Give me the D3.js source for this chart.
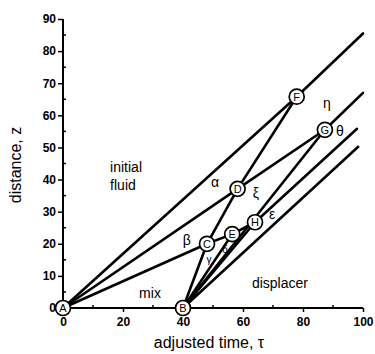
<!DOCTYPE html>
<html>
<head>
<meta charset="utf-8">
<script src="https://cdn.jsdelivr.net/npm/d3@7"></script>
<style>
  body { margin: 0; background: #fff; }
  text { font-family: "Liberation Sans", Arial, sans-serif; fill: #000; }
</style>
</head>
<body>
<div id="chart"></div>
<script>
// points of the wave diagram (tau, z)
var nodes = {
  A: [0, 0], B: [40, 0], C: [48, 20], D: [58.2, 37.1],
  E: [56.4, 23], H: [64, 26.7], F: [77.9, 65.8], G: [87.3, 55.5]
};
// line ends at the right side
var ends = {
  e1: [100, 85.5], e2: [100, 67], e3: [98, 55.8], e4: [98.4, 50.2]
};
var segments = [
  ["A", "F"], ["F", "e1"],
  ["A", "D"], ["D", "G"], ["G", "e2"],
  ["A", "C"], ["C", "D"], ["D", "F"],
  ["B", "C"], ["C", "E"], ["E", "H"], ["H", "e3"],
  ["B", "E"], ["B", "H"], ["B", "G"], ["B", "e4"]
];
var regionLabels = [
  { t: "α", p: [50.7, 39.2], s: 14 },
  { t: "β", p: [41.3, 21.2], s: 14 },
  { t: "γ", p: [48.7, 15], s: 10 },
  { t: "δ", p: [54, 18.3], s: 10 },
  { t: "ξ", p: [64.3, 35.8], s: 14 },
  { t: "ε", p: [69.7, 29.3], s: 14 },
  { t: "η", p: [88, 63.8], s: 14 },
  { t: "θ", p: [92.3, 55.1], s: 14 },
  { t: "mix", p: [29, 4.7], s: 14 },
  { t: "displacer", p: [72.3, 7.8], s: 14 }
];
var xTicks = [0, 20, 40, 60, 80, 100];
var yTicks = [0, 10, 20, 30, 40, 50, 60, 70, 80, 90];

var width = 375, height = 354;

var svg = d3.select("#chart").append("svg")
  .attr("width", width).attr("height", height);

var x = d3.scaleLinear().domain([0, 100]).range([63, 363]);
var y = d3.scaleLinear().domain([0, 90]).range([308, 19]);

function pt(k) { return nodes[k] || ends[k]; }

//axes
var xAxis = svg.append("g").attr("transform", "translate(0,308)")
  .call(d3.axisBottom(x).tickValues(xTicks).tickSize(4).tickPadding(5));
var yAxis = svg.append("g").attr("transform", "translate(63,0)")
  .call(d3.axisLeft(y).tickValues(yTicks).tickSize(5).tickPadding(2));
[xAxis, yAxis].forEach(function (a) {
  a.select(".domain").attr("d", null);
  a.selectAll(".tick line").attr("stroke-width", 1.5);
  a.selectAll("text").attr("font-size", 12).attr("font-weight", "bold")
    .style("font-family", "'Liberation Sans', Arial, sans-serif");
});
svg.append("line").attr("x1", 63).attr("x2", 363).attr("y1", 308).attr("y2", 308)
  .attr("stroke", "#000").attr("stroke-width", 2);
svg.append("line").attr("x1", 63).attr("x2", 63).attr("y1", 19).attr("y2", 308)
  .attr("stroke", "#000").attr("stroke-width", 2);

//minor ticks inside
svg.selectAll(".mx").data(d3.range(10, 100, 20)).enter().append("line")
  .attr("x1", function (d) { return x(d); }).attr("x2", function (d) { return x(d); })
  .attr("y1", 308).attr("y2", 305).attr("stroke", "#000").attr("stroke-width", 1.5);
svg.selectAll(".my").data(d3.range(5, 90, 10)).enter().append("line")
  .attr("y1", function (d) { return y(d); }).attr("y2", function (d) { return y(d); })
  .attr("x1", 63).attr("x2", 66).attr("stroke", "#000").attr("stroke-width", 1.5);

//wave lines
svg.selectAll(".seg").data(segments).enter().append("line")
  .attr("x1", function (d) { return x(pt(d[0])[0]); })
  .attr("y1", function (d) { return y(pt(d[0])[1]); })
  .attr("x2", function (d) { return x(pt(d[1])[0]); })
  .attr("y2", function (d) { return y(pt(d[1])[1]); })
  .attr("stroke", "#000").attr("stroke-width", 2.6).attr("stroke-linecap", "round");

//labelled circles
var keys = Object.keys(nodes);
var g = svg.selectAll(".node").data(keys).enter().append("g")
  .attr("transform", function (k) { return "translate(" + x(nodes[k][0]) + "," + y(nodes[k][1]) + ")"; });
g.append("circle").attr("r", 7.5).attr("fill", "#fff").attr("stroke", "#000").attr("stroke-width", 1.7);
g.append("text").text(function (k) { return k; })
  .attr("text-anchor", "middle").attr("dy", "0.36em").attr("font-size", 11);

//region labels
svg.selectAll(".lab").data(regionLabels).enter().append("text")
  .attr("x", function (d) { return x(d.p[0]); })
  .attr("y", function (d) { return y(d.p[1]); })
  .attr("text-anchor", "middle").attr("dy", "0.35em")
  .attr("font-size", function (d) { return d.s; })
  .text(function (d) { return d.t; });

svg.append("text").attr("x", x(15.7)).attr("y", y(42.4)).attr("font-size", 14).text("initial");
svg.append("text").attr("x", x(15.7)).attr("y", y(36.7)).attr("font-size", 14).text("fluid");

//axis titles
svg.append("text").attr("x", 209).attr("y", 348).attr("text-anchor", "middle")
  .attr("font-size", 16).text("adjusted time, τ");
svg.append("text").attr("transform", "translate(21,165) rotate(-90)")
  .attr("text-anchor", "middle").attr("font-size", 16).text("distance, z");
</script>
</body>
</html>
